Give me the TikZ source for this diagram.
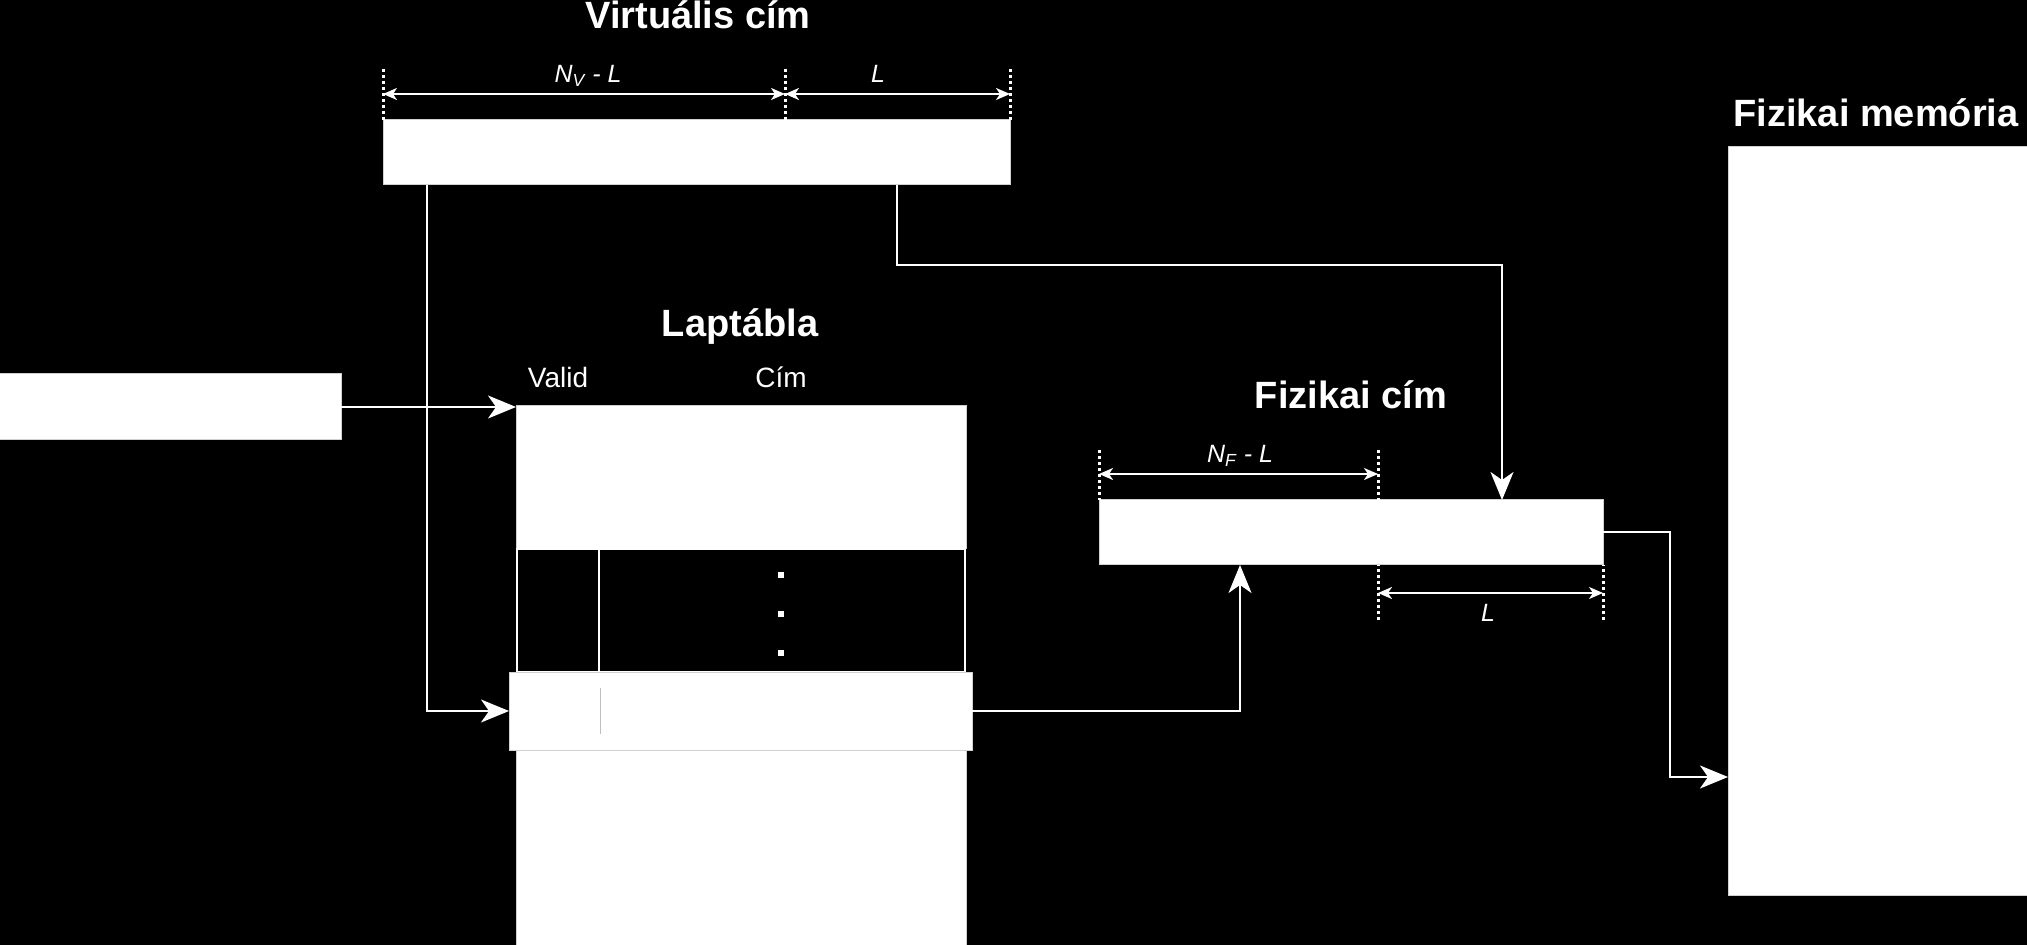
\documentclass[tikz,border=0pt]{standalone}
\usepackage{fontspec}
\setmainfont{Liberation Sans}
\usetikzlibrary{arrows.meta,calc}
\begin{document}
\begin{tikzpicture}[x=0.5pt,y=-0.5pt,
  every node/.style={inner sep=0pt,outer sep=0pt},
  wbox/.style={rectangle,fill=white,draw=white!82!black,line width=0.5pt},
  bbox/.style={rectangle,fill=black,draw=white,line width=1pt},
  ttl/.style={text=white,font=\fontsize{19}{22}\selectfont\bfseries,anchor=base},
  lbl/.style={text=white,font=\fontsize{14}{16}\selectfont,anchor=base},
  dimlbl/.style={text=white,font=\fontsize{12.5}{14}\selectfont\itshape,anchor=base},
  conn/.style={draw=white,line width=1pt},
  arr/.style={conn,-{Stealth[length=14pt,width=11.5pt,inset=4pt]}},
  dimarr/.style={draw=white,line width=1pt,{Stealth[length=7pt,width=6pt,inset=2pt]}-{Stealth[length=7pt,width=6pt,inset=2pt]}},
  tick/.style={draw=white,line width=1.5pt,dash pattern=on 1.5pt off 1.5pt}
]
\fill[black] (0,0) rectangle (2027,945);
\useasboundingbox (0,0) rectangle (2027,945);

% boxes
\node[wbox,minimum width=313.5pt,minimum height=32.5pt] (vbox) at (696.5,152.5) {};
\node[wbox,minimum width=173pt,minimum height=33pt] (lbox) at (168,407) {};
\node[wbox,minimum width=225pt,minimum height=71.5pt] (ttop) at (741,477.5) {};
\node[bbox,minimum width=224pt,minimum height=61.5pt] (tmid) at (741,610.5) {};
\node[wbox,minimum width=225pt,minimum height=105pt] (tbot) at (741,855) {};
\node[wbox,minimum width=231.5pt,minimum height=39pt] (row) at (740.5,711) {};
\node[wbox,minimum width=252pt,minimum height=32.5pt] (pbox) at (1351,532.5) {};
\node[wbox,minimum width=153.5pt,minimum height=374pt] (mem) at (1881.5,521) {};

% table middle column divider and dots
\draw[conn] (599,549) -- (599,672);
\fill[white] (778,572) rectangle (784,578);
\fill[white] (778,611) rectangle (784,617);
\fill[white] (778,650) rectangle (784,656);
\draw[draw=white!75!black,line width=0.5pt] (600,688) -- (600,734);

% titles and labels
\node[ttl] (tv) at (698,29) {Virtuális cím};
\node[ttl] (tl) at (740,337) {Laptábla};
\node[ttl] (tf) at (1351,409) {Fizikai cím};
\node[ttl] (tm) at (1876,127) {Fizikai memória};
\node[lbl] (lvalid) at (558,388) {Valid};
\node[lbl] (lcim) at (781,388) {Cím};

% virtual address dimensions
\coordinate (va) at (383,69);
\coordinate (vb) at (785,69);
\coordinate (vc) at (1010,69);
\draw[tick] (va) -- (va |- vbox.north);
\draw[tick] (vb) -- (vb |- vbox.north);
\draw[tick] (vc) -- (vc |- vbox.north);
\draw[dimarr] ($(va)+(0,25)$) -- ($(vb)+(0,25)$);
\draw[dimarr] ($(vb)+(0,25)$) -- ($(vc)+(0,25)$);
\node[dimlbl] (lnv) at (588,83) {N\textsubscript{V} - L};
\node[dimlbl] (llv) at (878,83) {L};

% physical address dimensions
\coordinate (pa) at (1099,450);
\coordinate (pb) at (1378,450);
\coordinate (pc) at (1378,620);
\coordinate (pd) at (1603,620);
\draw[tick] (pa) -- (pa |- pbox.north);
\draw[tick] (pb) -- (pb |- pbox.north);
\draw[tick] (pc) -- (pc |- pbox.south);
\draw[tick] (pd) -- (pd |- pbox.south);
\draw[dimarr] ($(pa)+(0,24)$) -- ($(pb)+(0,24)$);
\draw[dimarr] ($(pc)+(0,-27)$) -- ($(pd)+(0,-27)$);
\node[dimlbl] (lnf) at (1240,463) {N\textsubscript{F} - L};
\node[dimlbl] (llf) at (1488,622) {L};

% connectors
\coordinate (vl) at (427,300);
\draw[arr] (vl |- vbox.south) |- (row.west);
\draw[arr] (lbox.east) -- (lbox.east -| ttop.west);
\coordinate (vr) at (897,265);
\coordinate (pin) at (1502,500);
\draw[arr] (vr |- vbox.south) -- (vr) -| (pin |- pbox.north);
\coordinate (pup) at (1240,565);
\draw[arr] (row.east) -| (pup |- pbox.south);
\coordinate (mt) at (1670,777);
\draw[arr] (pbox.east) -| (mt) -- (mt -| mem.west);
\end{tikzpicture}
\end{document}
